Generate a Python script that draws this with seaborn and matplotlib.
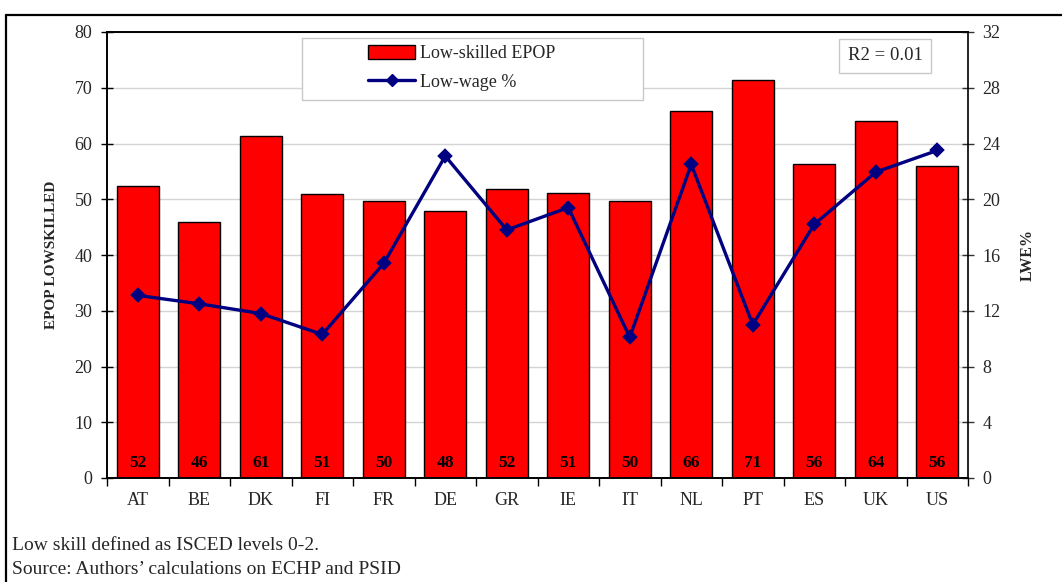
import matplotlib
matplotlib.use("Agg")
import matplotlib.pyplot as plt
from matplotlib.patches import Rectangle, Patch
from matplotlib.lines import Line2D
import numpy as np
import pandas as pd
import seaborn as sns

# Low-skilled employment-to-population ratio and low-wage share by country
countries = ["AT", "BE", "DK", "FI", "FR", "DE", "GR", "IE", "IT", "NL", "PT", "ES", "UK", "US"]
epop_lowskilled = [52.4, 46.0, 61.4, 50.9, 49.6, 47.9, 51.9, 51.2, 49.6, 65.9, 71.4, 56.3, 64.0, 56.0]
low_wage_pct = [13.1, 12.5, 11.8, 10.3, 15.4, 23.1, 17.8, 19.4, 10.1, 22.5, 11.0, 18.2, 21.95, 23.5]
left_ticks = [0, 10, 20, 30, 40, 50, 60, 70, 80]
right_ticks = [0, 4, 8, 12, 16, 20, 24, 28, 32]
r2_text = "R2 = 0.01"
footnotes = ["Low skill defined as ISCED levels 0-2.",
             "Source: Authors\u2019 calculations on ECHP and PSID"]

df = pd.DataFrame({"country": countries, "epop": epop_lowskilled, "lwe": low_wage_pct})

sns.set_theme(style="white")
plt.rcParams["font.family"] = ["Liberation Serif", "DejaVu Serif"]

W, H = 1062, 582
fig = plt.figure(figsize=(W / 100, H / 100), dpi=100)
ax = fig.add_axes([107 / W, 1 - 478 / H, (968 - 107) / W, (478 - 32) / H])

sns.barplot(data=df, x="country", y="epop", ax=ax, color="#ff0000", saturation=1,
            width=0.68, edgecolor="black", linewidth=1.0, zorder=2)
ax.set_ylim(0, 80)
ax.set_xlim(-0.5, len(countries) - 0.5)
ax.set_yticks(left_ticks)
ax.yaxis.grid(True, color="#d4d4d4", linewidth=1.0, zorder=0)
ax.set_axisbelow(True)

for i, v in enumerate(epop_lowskilled):
    ax.text(i, 2.7, f"{v:.0f}", ha="center", va="center", fontsize=12.5,
            fontweight="bold", color="black", zorder=5)

ax2 = ax.twinx()
sns.pointplot(data=df, x="country", y="lwe", ax=ax2, color="#000080",
              markers="D", markersize=6.5, linewidth=2.4, zorder=4)
ax2.set_ylim(0, 32)
ax2.set_yticks(right_ticks)
ax2.set_xlim(-0.5, len(countries) - 0.5)

for a in (ax, ax2):
    for s in a.spines.values():
        s.set_color("black")
        s.set_linewidth(1.2)
ax.spines["right"].set_visible(False)

ax.set_xticks(range(len(countries)))
ax.set_xticklabels(countries, fontsize=13)
ax.set_xticks(np.arange(-0.5, len(countries)), minor=True)
ax.tick_params(axis="x", which="major", length=0, pad=10)
ax.tick_params(axis="x", which="minor", length=6, width=1.0, direction="out", color="black", bottom=True)
ax.tick_params(axis="y", which="major", length=9, width=1.0, direction="inout",
               color="black", labelsize=13, left=True, pad=6)
ax2.tick_params(axis="y", which="major", length=9, width=1.0, direction="inout",
                color="#333333", labelsize=13, right=True, pad=6)

ax.set_xlabel("")
ax.set_ylabel("EPOP LOWSKILLED", fontsize=11, fontweight="bold", labelpad=12)
ax2.set_ylabel("LWE%", fontsize=11.5, fontweight="bold", rotation=90, labelpad=14)

# Legend box
ax.add_patch(Rectangle(((302 - 107) / 861, (478 - 100) / 446), (643 - 302) / 861, 62 / 446,
                       transform=ax.transAxes, facecolor="white", edgecolor="#c8c8c8",
                       linewidth=1.0, zorder=6, clip_on=False))
handles = [Patch(facecolor="#ff0000", edgecolor="black", linewidth=1.0, label="Low-skilled EPOP"),
           Line2D([0], [0], color="#000080", linewidth=2.4, marker="D", markersize=6.5,
                  label="Low-wage %")]
leg = ax2.legend(handles=handles, loc="center", bbox_to_anchor=((462 - 107) / 861, (478 - 68) / 446),
                 frameon=False, fontsize=13, handlelength=2.6, handleheight=0.8,
                 labelspacing=0.65, handletextpad=0.3)
leg.set_zorder(10)

ax2.text((885 - 107) / 861, (478 - 56) / 446, r2_text, transform=ax2.transAxes,
         ha="center", va="center", fontsize=13.5, zorder=10,
         bbox=dict(boxstyle="square,pad=0.45", facecolor="white", edgecolor="#c8c8c8", linewidth=1.0))

# Frame around the chart
fig.add_artist(Line2D([6 / W, 6 / W], [0, 1 - 15 / H], transform=fig.transFigure,
                      color="black", linewidth=1.6))
fig.add_artist(Line2D([6 / W, 1], [1 - 15 / H, 1 - 15 / H], transform=fig.transFigure,
                      color="black", linewidth=1.6))

fig.text(12 / W, 1 - 546 / H, footnotes[0], fontsize=14, va="center", ha="left")
fig.text(12 / W, 1 - 570 / H, footnotes[1], fontsize=14, va="center", ha="left")

fig.savefig("out.png", dpi=100)
